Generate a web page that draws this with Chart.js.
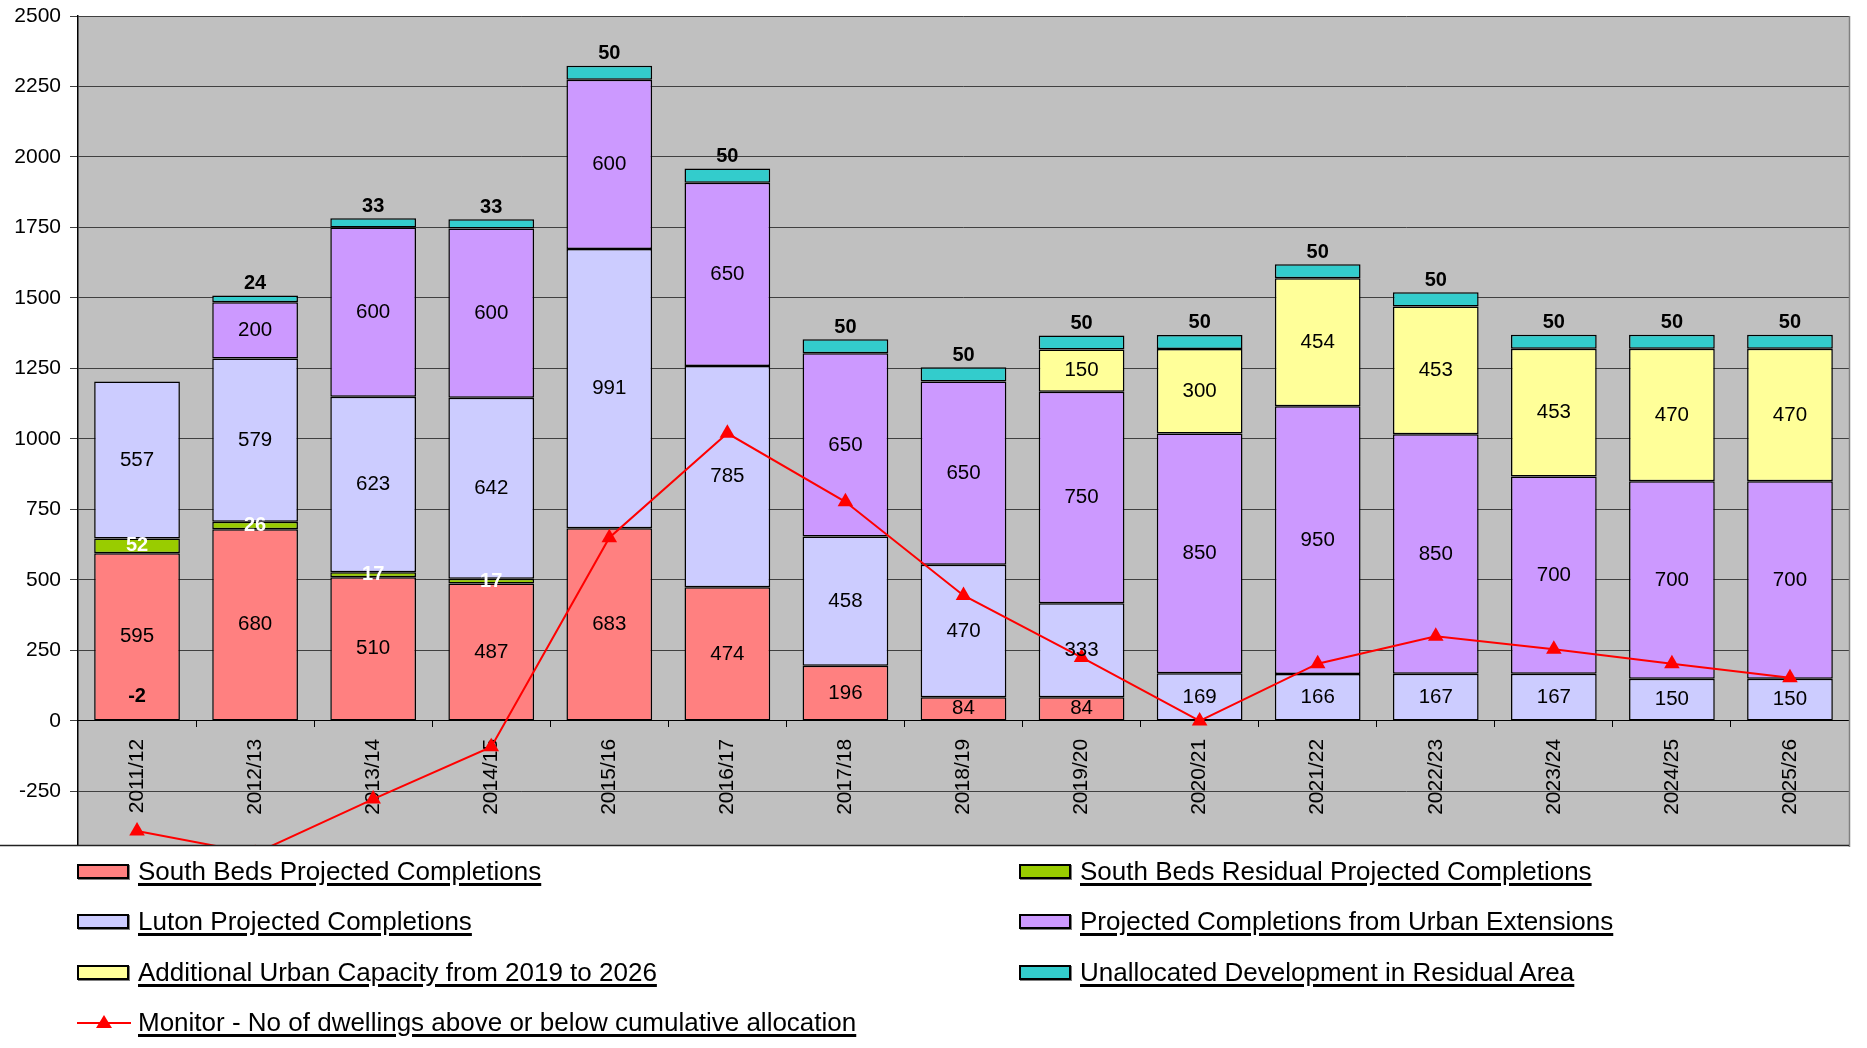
<!DOCTYPE html>
<html><head><meta charset="utf-8">
<script src="https://cdn.jsdelivr.net/npm/chart.js@4/dist/chart.umd.min.js"></script>
<style>
html,body{margin:0;padding:0;background:#fff;}
#wrap{position:relative;width:1867px;height:854px;}
#legend{position:absolute;left:0;top:0;width:1867px;height:1048px;font-family:"Liberation Sans",Arial,sans-serif;}
.item{position:absolute;height:30px;display:flex;align-items:center;white-space:nowrap;}
.sw{width:48px;height:11px;border:2px solid #000;box-shadow:1px 1px 0 #808080;margin-right:9px;flex:none;}
.swl{width:54px;height:16px;margin-right:7px;flex:none;}
.txt{font-size:26px;color:#000;text-decoration:underline;text-decoration-thickness:3px;text-underline-offset:3px;}
</style></head>
<body>
<div id="wrap"><canvas id="c"></canvas></div>
<div id="legend"></div>
<script>
const categories = ['2011/12','2012/13','2013/14','2014/15','2015/16','2016/17','2017/18','2018/19','2019/20','2020/21','2021/22','2022/23','2023/24','2024/25','2025/26'];
const southBedsProjected = [595, 680, 510, 487, 683, 474, 196, 84, 84, null, null, null, null, null, null];
const southBedsResidual  = [52, 26, 17, 17, null, null, null, null, null, null, null, null, null, null, null];
const lutonProjected     = [557, 579, 623, 642, 991, 785, 458, 470, 333, 169, 166, 167, 167, 150, 150];
const urbanExtensions    = [null, 200, 600, 600, 600, 650, 650, 650, 750, 850, 950, 850, 700, 700, 700];
const additionalCapacity = [null, null, null, null, null, null, null, null, 150, 300, 454, 453, 453, 470, 470];
const unallocated        = [-2, 24, 33, 33, 50, 50, 50, 50, 50, 50, 50, 50, 50, 50, 50];
const monitor            = [-390, -470, -277, -92, 650, 1020, 777, 445, 225, 0, 203, 300, 254, 203, 153];
const yTicks = [-250, 0, 250, 500, 750, 1000, 1250, 1500, 1750, 2000, 2250, 2500];

const FONT = '"Liberation Sans", Arial, sans-serif';

const series = [
  {label:'South Beds Projected Completions', data:southBedsProjected, color:'#FF8080', mode:'inside'},
  {label:'South Beds Residual Projected Completions', data:southBedsResidual, color:'#99CC00', mode:'white'},
  {label:'Luton Projected Completions', data:lutonProjected, color:'#CCCCFF', mode:'inside'},
  {label:'Projected Completions from Urban Extensions', data:urbanExtensions, color:'#CC99FF', mode:'inside'},
  {label:'Additional Urban Capacity from 2019 to 2026', data:additionalCapacity, color:'#FFFF99', mode:'inside'},
  {label:'Unallocated Development in Residual Area', data:unallocated, color:'#33CCCC', mode:'above'}
];
const lineLabel = 'Monitor - No of dwellings above or below cumulative allocation';

const datasets = series.map(s => ({
  type:'bar', label:s.label, data:s.data, backgroundColor:s.color,
  borderColor:'#000', borderWidth:1.5, borderSkipped:false,
  categoryPercentage:1, barPercentage:0.726, labelMode:s.mode, order:1
}));
datasets.push({
  type:'line', label:lineLabel, data:monitor, stack:'monitor',
  borderColor:'#FF0000', backgroundColor:'#FF0000', borderWidth:2,
  pointStyle:'triangle', pointRadius:9, pointHoverRadius:9, pointBorderWidth:0,
  pointBackgroundColor:'#FF0000', tension:0, order:0
});

const bgPlugin = {
  id:'bg',
  beforeDraw(chart){
    const {ctx, chartArea:a} = chart;
    ctx.save();
    ctx.fillStyle = '#C0C0C0';
    ctx.fillRect(a.left, a.top, a.right - a.left, a.bottom - a.top);
    ctx.restore();
  },
  afterDraw(chart){
    const {ctx, chartArea:a} = chart;
    ctx.save();
    ctx.strokeStyle = '#808080'; ctx.lineWidth = 1.5;
    ctx.beginPath(); ctx.moveTo(a.right + 0.5, a.top); ctx.lineTo(a.right + 0.5, a.bottom + 2); ctx.stroke();
    ctx.strokeStyle = '#222'; ctx.lineWidth = 1.5;
    ctx.beginPath(); ctx.moveTo(0, a.bottom + 0.5); ctx.lineTo(a.right, a.bottom + 0.5); ctx.stroke();
    ctx.restore();
  }
};

const labelPlugin = {
  id:'segLabels',
  afterDatasetsDraw(chart){
    const ctx = chart.ctx;
    ctx.save();
    ctx.textAlign = 'center';
    ctx.textBaseline = 'middle';
    chart.data.datasets.forEach((ds, di) => {
      if (ds.type !== 'bar') return;
      const meta = chart.getDatasetMeta(di);
      meta.data.forEach((el, i) => {
        const v = ds.data[i];
        if (v === null || v === 0) return;
        let y;
        if (ds.labelMode === 'above') {
          ctx.font = 'bold 20px ' + FONT; ctx.fillStyle = '#000';
          y = v < 0 ? el.base - 25 : Math.min(el.y, el.base) - 12;
        } else if (ds.labelMode === 'white') {
          ctx.font = 'bold 20px ' + FONT; ctx.fillStyle = '#fff';
          y = (el.y + el.base) / 2;
        } else {
          ctx.font = '20.5px ' + FONT; ctx.fillStyle = '#000';
          y = (el.y + el.base) / 2;
        }
        ctx.fillText(String(v), el.x, y);
      });
    });
    ctx.restore();
  }
};

new Chart(document.getElementById('c'), {
  data:{labels:categories, datasets},
  options:{
    responsive:true, maintainAspectRatio:false, animation:false,
    layout:{padding:{top:16, bottom:2, left:0, right:18}},
    plugins:{legend:{display:false}, tooltip:{enabled:false}},
    scales:{
      x:{
        stacked:true, position:{y:0},
        grid:{offset:true, drawOnChartArea:false, drawTicks:true, tickLength:6, color:'#000', lineWidth:1},
        border:{display:true, color:'#000', width:1},
        ticks:{minRotation:90, maxRotation:90, autoSkip:false, padding:12, color:'#000', font:{family:FONT, size:21}},
        afterFit(s){ s.paddingLeft = 0; s.paddingRight = 0; }
      },
      y:{
        stacked:true, min:-440, max:2500,
        afterBuildTicks(s){ s.ticks = yTicks.map(v => ({value:v})); },
        grid:{color:'#404040', lineWidth:1, tickLength:8, drawTicks:true},
        border:{display:true, color:'#000', width:1.5},
        ticks:{padding:9, color:'#000', font:{family:FONT, size:21}, callback:(v) => String(v)},
        afterFit(s){ s.width = 78; s.paddingTop = 0; s.paddingBottom = 0; }
      }
    }
  },
  plugins:[bgPlugin, labelPlugin]
});

// HTML legend
const legendEl = document.getElementById('legend');
const rowsTop = [856, 906, 957, 1007];
const legendItems = [
  {s:series[0], col:0, row:0}, {s:series[1], col:1, row:0},
  {s:series[2], col:0, row:1}, {s:series[3], col:1, row:1},
  {s:series[4], col:0, row:2}, {s:series[5], col:1, row:2},
  {s:null, col:0, row:3}
];
const colLeft = [77, 1019];
legendItems.forEach(it => {
  const d = document.createElement('div');
  d.className = 'item';
  d.style.left = colLeft[it.col] + 'px';
  d.style.top = rowsTop[it.row] + 'px';
  if (it.s) {
    const sw = document.createElement('span'); sw.className = 'sw'; sw.style.background = it.s.color; d.appendChild(sw);
  } else {
    const ns = 'http://www.w3.org/2000/svg';
    const svg = document.createElementNS(ns, 'svg'); svg.setAttribute('class', 'swl');
    svg.setAttribute('width', '54'); svg.setAttribute('height', '16');
    const ln = document.createElementNS(ns, 'line');
    ln.setAttribute('x1', '0'); ln.setAttribute('y1', '9'); ln.setAttribute('x2', '54'); ln.setAttribute('y2', '9');
    ln.setAttribute('stroke', '#FF0000'); ln.setAttribute('stroke-width', '2');
    const tri = document.createElementNS(ns, 'polygon');
    tri.setAttribute('points', '27,1 35,14 19,14'); tri.setAttribute('fill', '#FF0000');
    svg.appendChild(ln); svg.appendChild(tri); d.appendChild(svg);
  }
  const t = document.createElement('span'); t.className = 'txt';
  t.textContent = it.s ? it.s.label : lineLabel;
  d.appendChild(t);
  legendEl.appendChild(d);
});
</script>
</body></html>
